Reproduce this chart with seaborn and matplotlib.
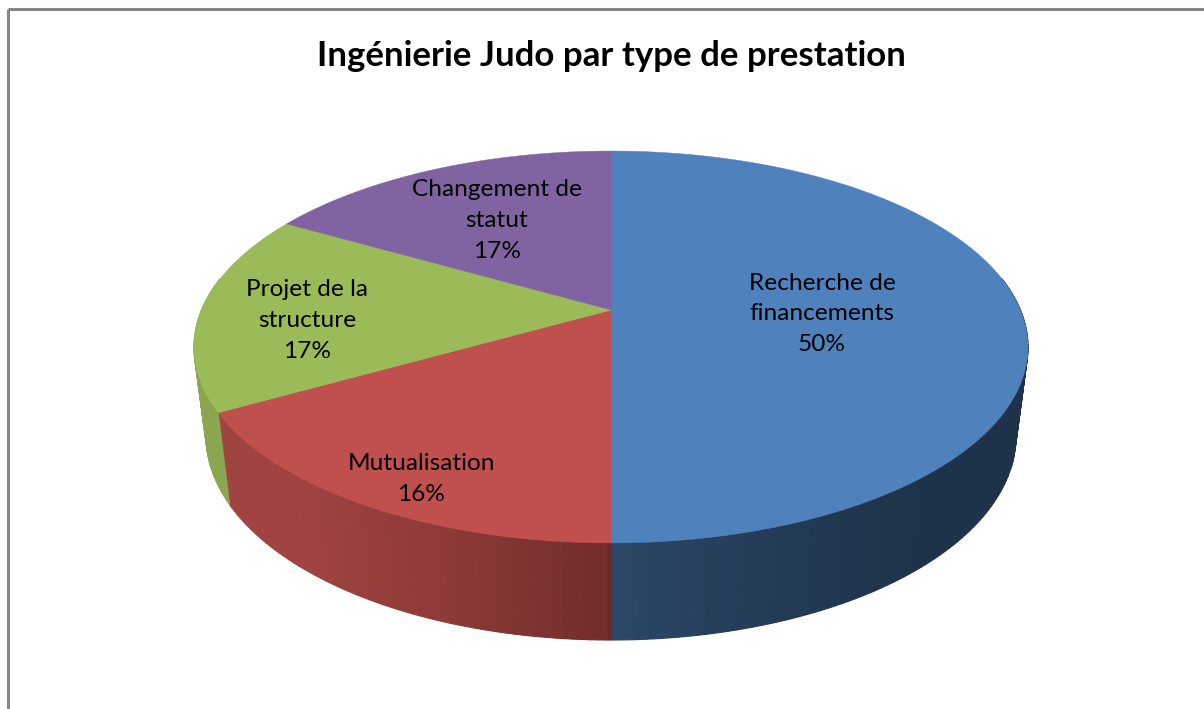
import numpy as np
import matplotlib
matplotlib.use("Agg")
import matplotlib.pyplot as plt
from matplotlib.patches import Polygon
import seaborn as sns

categories = ["Recherche de\nfinancements", "Mutualisation", "Projet de la\nstructure", "Changement de\nstatut"]
values = [50, 16.8, 16.5, 16.7]
percent_labels = ["50%", "16%", "17%", "17%"]
colors = ["#4f81bd", "#c0504d", "#9bbb59", "#8064a2"]
wall_start = ["#2c4869", "#6e2b2a", "#8aa651", "#5d4878"]
wall_end = ["#1e3349", "#a04441", "#8aa651", "#5d4878"]
title = "Ingénierie Judo par type de prestation"

sns.set_theme(style="white")
plt.rcParams["font.family"] = ["Lato", "DejaVu Sans"]

W, H = 1204, 709
fig = plt.figure(figsize=(W / 100, H / 100), dpi=100, facecolor="white")
ax = fig.add_axes([0, 0, 1, 1])
wedges, _ = ax.pie(values, startangle=90, counterclock=False, radius=1)
thetas = [(w.theta1, w.theta2) for w in wedges]
for w in wedges:
    w.remove()
ax.set_aspect("auto")
ax.set_xlim(0, W)
ax.set_ylim(H, 0)
ax.axis("off")

K = 0.1888


def project(deg, sx=1.0, sy=1.0, y0=310.0):
    t = np.radians(deg)
    x, y = np.cos(t), np.sin(t)
    d = 1 + K * y
    return 611 + sx * 409.5 * x / d, y0 - sy * 189 * y / d


# side wall, drawn as thin strips that carry the shading
WALL = dict(sx=0.971, sy=1.04, y0=397.7)
for (a, b), c0, c1 in zip(thetas, wall_start, wall_end):
    lo, hi = min(a, b), max(a, b)
    angles = np.arange(lo, hi + 1e-6, 1.0)
    if angles[-1] < hi:
        angles = np.append(angles, hi)
    c0a, c1a = np.array(matplotlib.colors.to_rgb(c0)), np.array(matplotlib.colors.to_rgb(c1))
    for s, e in zip(angles[:-1], angles[1:]):
        mid = ((s + e) / 2) % 360
        if not (170 < mid < 370 or mid < 10):
            continue
        xm, _ = project(mid)
        f = min(abs(xm - 611) / 417.0, 1.0) ** 0.8
        f = min(f * 1.25, 1.0)
        col = c0a + (c1a - c0a) * f
        pts = [project(s), project(e), project(e, **WALL), project(s, **WALL)]
        ax.add_patch(Polygon(pts, closed=True, facecolor=col, edgecolor=col, lw=0.8, zorder=2))

# top faces
for (a, b), col in zip(thetas, colors):
    lo, hi = min(a, b), max(a, b)
    angles = np.linspace(lo, hi, 200)
    xs, ys = project(angles)
    cx, cy = 611.0, 310.0
    pts = np.column_stack([np.r_[cx, xs], np.r_[cy, ys]])
    ax.add_patch(Polygon(pts, closed=True, facecolor=col, edgecolor=col, lw=0.3, zorder=3))

# labels
label_xy = [(822, 314), (421, 479), (307.5, 320.5), (497, 220.5)]
for name, pct, (x, y) in zip(categories, percent_labels, label_xy):
    ax.text(x, y, f"{name}\n{pct}", ha="center", va="center", fontsize=17.6,
            color="black", linespacing=1.57, zorder=4)

ax.text(611, 56, title, ha="center", va="center", fontsize=25.1, fontweight="bold", color="black")

# chart frame
ax.plot([8, 8], [H, 9], color="#868686", lw=2.2, solid_capstyle="butt", zorder=5)
ax.plot([8, W], [9, 9], color="#868686", lw=2.2, solid_capstyle="butt", zorder=5)

fig.savefig("out.png", dpi=100, facecolor="white")
